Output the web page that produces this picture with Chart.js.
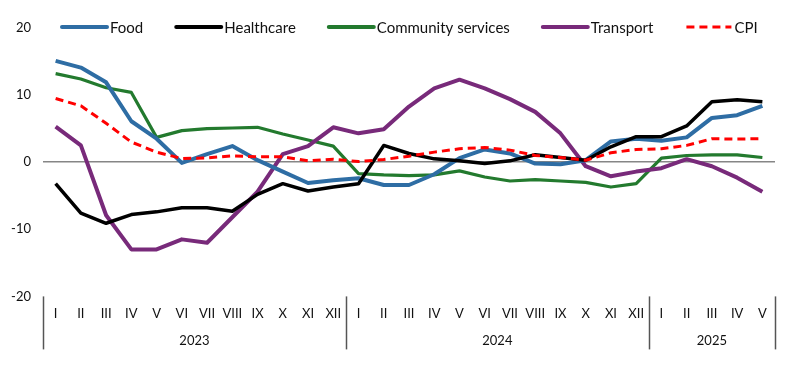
<!DOCTYPE html>
<html>
<head>
<meta charset="utf-8">
<script src="https://cdn.jsdelivr.net/npm/chart.js@4"></script>
<style>
  html, body { margin: 0; padding: 0; background: #fff; }
  #wrap { width: 799px; height: 369px; }
</style>
</head>
<body>
<div id="wrap"><canvas id="priceChart"></canvas></div>
<script>
var months = ['I', 'II', 'III', 'IV', 'V', 'VI', 'VII', 'VIII', 'IX', 'X', 'XI', 'XII',
	'I', 'II', 'III', 'IV', 'V', 'VI', 'VII', 'VIII', 'IX', 'X', 'XI', 'XII',
	'I', 'II', 'III', 'IV', 'V'];
var years = ['2023', '2024', '2025'];
var monthsPerYear = [12, 12, 5];

var food = [15.1, 14.1, 11.9, 6.1, 3.5, -0.1, 1.2, 2.4, 0.3, -1.4, -3.1, -2.7,
	-2.4, -3.4, -3.4, -1.8, 0.6, 1.9, 1.3, -0.2, -0.3, 0.3, 3.1, 3.5,
	3.2, 3.7, 6.6, 7.0, 8.4];
var healthcare = [-3.2, -7.6, -9.1, -7.8, -7.4, -6.8, -6.8, -7.3, -4.8, -3.2, -4.3, -3.7,
	-3.2, 2.5, 1.3, 0.5, 0.2, -0.2, 0.2, 1.1, 0.7, 0.3, 2.3, 3.8,
	3.8, 5.4, 9.0, 9.3, 9.0];
var community = [13.2, 12.4, 11.1, 10.4, 3.7, 4.7, 5.0, 5.1, 5.2, 4.2, 3.3, 2.4,
	-1.7, -1.9, -2.0, -1.9, -1.3, -2.2, -2.8, -2.6, -2.8, -3.0, -3.7, -3.2,
	0.6, 1.0, 1.1, 1.1, 0.7];
var transport = [5.3, 2.5, -7.9, -13.0, -13.0, -11.5, -12.0, -8.2, -4.4, 1.2, 2.4, 5.2,
	4.3, 4.9, 8.3, 11.0, 12.3, 11.0, 9.4, 7.5, 4.3, -0.6, -2.1, -1.4,
	-0.9, 0.45, -0.6, -2.3, -4.4];
var cpi = [9.5, 8.4, 5.8, 3.0, 1.5, 0.55, 0.65, 0.95, 0.8, 0.8, 0.2, 0.45,
	0.1, 0.4, 0.9, 1.5, 2.0, 2.2, 1.8, 1.0, 0.7, 0.3, 1.4, 1.9,
	2.0, 2.5, 3.5, 3.45, 3.5];

var FONT = 'Lato, "Open Sans", sans-serif';

// legend drawn by hand, laid out in one row at the top
var legendPlugin = {
	id: 'topLegend',
	afterDraw: function (chart) {
		var c = chart.ctx;
		var x = 62, y = 27;
		c.save();
		c.font = '15px ' + FONT;
		c.textBaseline = 'middle';
		c.textAlign = 'left';
		chart.data.datasets.slice().sort(function (a, b) { return a.legendIndex - b.legendIndex; }).forEach(function (ds) {
			c.beginPath();
			c.strokeStyle = ds.borderColor;
			c.lineWidth = ds.legendWidth;
			c.lineCap = ds.borderDash ? 'butt' : 'round';
			c.setLineDash(ds.borderDash || []);
			c.moveTo(x, y);
			c.lineTo(x + 45, y);
			c.stroke();
			c.setLineDash([]);
			c.fillStyle = '#111';
			c.fillText(ds.label, x + 48, y + 1);
			x += 48 + c.measureText(ds.label).width + 33;
		});
		c.restore();
	}
};

// year groups under the month labels, with separator lines
var yearPlugin = {
	id: 'yearAxis',
	afterDraw: function (chart) {
		var c = chart.ctx;
		var xs = chart.scales.x;
		var area = chart.chartArea;
		var top = area.bottom, bottom = area.bottom + 53;
		var edges = [area.left];
		var idx = 0;
		monthsPerYear.forEach(function (n) {
			idx += n;
			if (idx < months.length) {
				edges.push((xs.getPixelForValue(idx - 1) + xs.getPixelForValue(idx)) / 2);
			} else {
				edges.push(area.right);
			}
		});
		c.save();
		c.strokeStyle = '#555';
		c.lineWidth = 1.5;
		edges.forEach(function (ex) {
			c.beginPath();
			c.moveTo(Math.round(ex) + 0.5, top);
			c.lineTo(Math.round(ex) + 0.5, bottom);
			c.stroke();
		});
		c.font = '13px ' + FONT;
		c.fillStyle = '#111';
		c.textAlign = 'center';
		c.textBaseline = 'middle';
		years.forEach(function (yr, i) {
			c.fillText(yr, (edges[i] + edges[i + 1]) / 2, area.bottom + 44);
		});
		c.restore();
	}
};

var ctx = document.getElementById('priceChart').getContext('2d');
var priceChart = new Chart(ctx, {
	type: 'line',
	data: {
		labels: months,
		datasets: [{
			label: 'Food',
			data: food,
			borderColor: '#2e6da4',
			borderWidth: 4,
			legendWidth: 4,
			legendIndex: 0,
			order: 2
		}, {
			label: 'Healthcare',
			data: healthcare,
			borderColor: '#000000',
			borderWidth: 3.5,
			legendWidth: 4,
			legendIndex: 1,
			order: 1
		}, {
			label: 'Community services',
			data: community,
			borderColor: '#237a2e',
			borderWidth: 3.2,
			legendWidth: 4,
			legendIndex: 2,
			order: 4
		}, {
			label: 'Transport',
			data: transport,
			borderColor: '#782a7a',
			borderWidth: 4,
			legendWidth: 4,
			legendIndex: 3,
			order: 3
		}, {
			label: 'CPI',
			data: cpi,
			borderColor: '#ff0000',
			borderWidth: 3,
			borderDash: [8, 5],
			legendWidth: 3,
			legendIndex: 4,
			order: 0
		}]
	},
	options: {
		responsive: true,
		maintainAspectRatio: false,
		animation: false,
		elements: {
			point: { radius: 0 },
			line: { tension: 0, borderJoinStyle: 'round', borderCapStyle: 'butt' }
		},
		layout: { padding: { top: 28, right: 24, bottom: 37, left: 0 } },
		plugins: {
			legend: { display: false },
			tooltip: { enabled: false }
		},
		scales: {
			x: {
				offset: true,
				grid: { display: false, drawTicks: false },
				border: { display: false },
				ticks: {
					autoSkip: false,
					maxRotation: 0,
					padding: 10,
					color: '#111',
					font: { family: FONT, size: 13 }
				}
			},
			y: {
				min: -20,
				max: 20,
				afterFit: function (scale) { scale.width = 43; },
				grid: {
					drawTicks: false,
					lineWidth: 1.5,
					color: function (c) { return c.tick && c.tick.value === 0 ? '#868686' : 'rgba(0,0,0,0)'; }
				},
				border: { display: false },
				ticks: {
					stepSize: 10,
					padding: 12,
					color: '#111',
					font: { family: FONT, size: 13 }
				}
			}
		}
	},
	plugins: [legendPlugin, yearPlugin]
});

function resizeChart() {
	priceChart.resize();
}

window.addEventListener('resize', resizeChart);
</script>
</body>
</html>
